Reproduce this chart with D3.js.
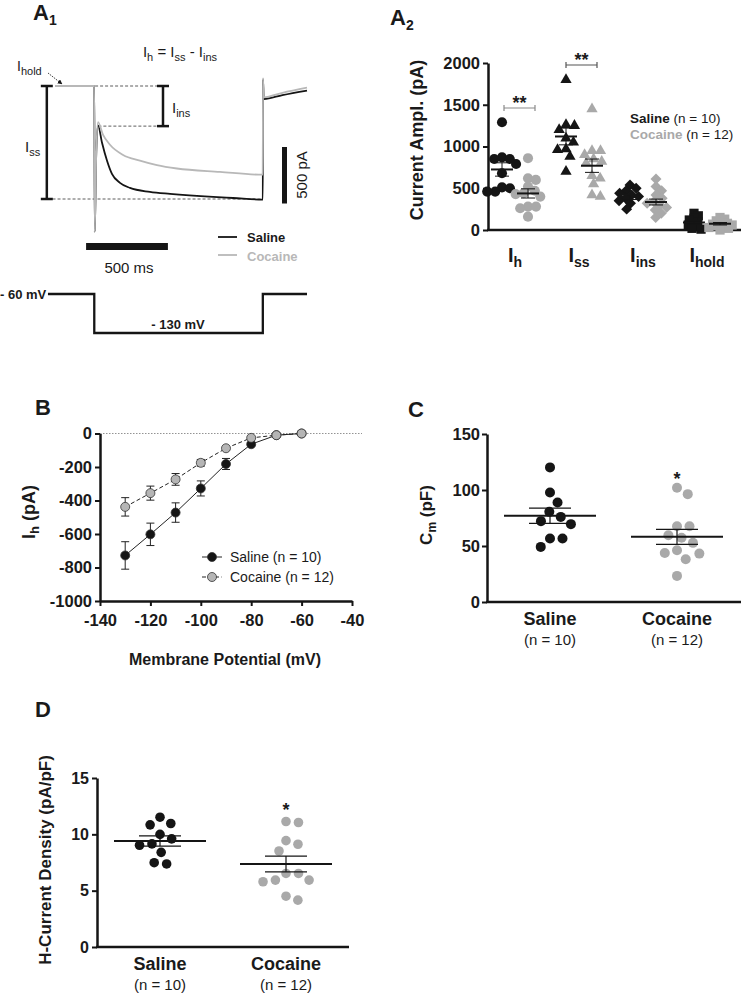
<!DOCTYPE html>
<html><head><meta charset="utf-8">
<script src="https://cdn.jsdelivr.net/npm/d3@7"></script>
<style>body{margin:0;background:#fff}svg{display:block}text{font-family:"Liberation Sans",Arial,Helvetica,sans-serif}</style>
</head><body><svg id="fig" width="741" height="993"></svg>
<script>
// ================= DATA =================
// A1: example current traces (time in ms from step onset, current in pA)
const salineTraceT = [-240, -5, 0, 3, 12, 23, 47, 78, 108, 157, 218, 340, 463, 726, 848, 1028, 1030, 1031, 1036, 1150, 1300];
const salineTraceI = [0, 0, 0, -1290, -600, -348, -500, -661, -777, -857, -902, -937, -955, -982, -991, -1005, -1005, 60, -115, -80, -40];
const cocaineTraceT = [-240, -5, 0, 3, 12, 23, 53, 96, 176, 279, 383, 505, 768, 1028, 1030, 1031, 1036, 1150, 1300];
const cocaineTraceI = [0, 0, 0, -1290, -600, -319, -430, -520, -610, -660, -700, -730, -760, -785, -785, 70, -100, -60, -15];
const issLevel = -1000, iinsLevel = -355;
const scaleBarMs = 500, scaleBarPA = 500;
const protocolT = [-283, 0, 0, 1030, 1030, 1300];
const protocolV = [-60, -60, -130, -130, -60, -60];

// A2: current amplitudes (pA)
const a2Categories = ["h", "ss", "ins", "hold"];
const a2Saline = [
  [1290, 870, 850, 850, 790, 680, 510, 500, 460, 460],
  [1800, 1260, 1250, 1200, 1100, 1050, 970, 960, 880, 700],
  [540, 500, 470, 440, 420, 400, 380, 350, 320, 250],
  [200, 170, 140, 120, 100, 80, 60, 40, 20, 10]
];
const a2Cocaine = [
  [860, 620, 600, 520, 470, 440, 430, 400, 280, 280, 260, 160],
  [1450, 950, 950, 900, 850, 820, 800, 650, 620, 550, 420, 400],
  [610, 520, 470, 420, 380, 340, 320, 300, 270, 240, 200, 150],
  [150, 130, 110, 90, 80, 70, 60, 50, 40, 30, 20, 0]
];
const a2SalineMean = [725, 1120, 395, 90], a2SalineSem = [80, 100, 30, 20];
const a2CocaineMean = [438, 770, 335, 75], a2CocaineSem = [55, 80, 35, 15];
const a2YTicks = [0, 500, 1000, 1500, 2000];

// B: I-V relation
const ivVoltage = [-130, -120, -110, -100, -90, -80, -70, -60];
const ivSaline = [-728, -602, -472, -328, -182, -64, -10, 0];
const ivSalineSem = [82, 67, 58, 45, 33, 10, 3, 0];
const ivCocaine = [-438, -356, -274, -175, -88, -26, -10, 0];
const ivCocaineSem = [55, 42, 35, 20, 10, 5, 2, 0];
const bXTicks = [-140, -120, -100, -80, -60, -40];
const bYTicks = [0, -200, -400, -600, -800, -1000];

// C: membrane capacitance (pF)
const groups = ["Saline", "Cocaine"];
const groupN = ["(n = 10)", "(n = 12)"];
const cmSaline = [120.2, 97.8, 88.9, 80.5, 76, 72.2, 69.5, 56.7, 56.7, 49.2];
const cmCocaine = [102, 96.3, 67.7, 67.7, 59.6, 57.3, 52.8, 46.2, 43.8, 43.2, 38.2, 23.3];
const cmMean = [77, 58.2], cmSem = [6.8, 6.7];
const cYTicks = [0, 50, 100, 150];

// D: H-current density (pA/pF)
const densSaline = [11.52, 10.96, 10.84, 10.0, 9.6, 9.15, 9.03, 8.4, 7.48, 7.37];
const densCocaine = [11.14, 11.05, 9.44, 9.12, 8.52, 6.53, 6.53, 5.94, 5.94, 5.79, 4.51, 4.16];
const densMean = [9.41, 7.37], densSem = [0.45, 0.7];
const dYTicks = [0, 5, 10, 15];

// ================= DRAWING =================
const svg = d3.select("#fig");
const BLACK = "#151515", GREY = "#a9a9a9", TXT = "#1a1a1a";

function rich(parent, x, y, parts, o) {
  const t = parent.append("text").attr("x", x).attr("y", y)
    .attr("font-size", o.size).attr("font-weight", o.weight || "normal")
    .attr("text-anchor", o.anchor || "start").attr("fill", o.fill || TXT);
  if (o.rotate) t.attr("transform", `rotate(${o.rotate},${x},${y})`);
  let shifted = 0;
  parts.forEach(p => {
    const arr = Array.isArray(p) ? p : [p, "n"];
    const ts = t.append("tspan").text(arr[0]);
    if (arr[1] === "s") {
      const d = o.subShift != null ? o.subShift : o.size * 0.3;
      ts.attr("font-size", o.subSize || o.size * 0.7).attr("dy", d - shifted); shifted = d;
    } else { if (shifted) ts.attr("dy", -shifted); shifted = 0; }
    if (arr[2]) ts.attr("font-weight", arr[2]);
    if (arr[3]) ts.attr("fill", arr[3]);
  });
  return t;
}

function swarm(values, yScale, cx, D) {
  const order = values.map((v, i) => i).sort((a, b) => values[b] - values[a]);
  const placed = [], out = new Array(values.length);
  order.forEach(i => {
    const y = yScale(values[i]);
    const cands = [0];
    placed.forEach(p => {
      const dy = Math.abs(p.y - y);
      if (dy < D) { const dx = Math.sqrt(D * D - dy * dy); cands.push(p.x + dx, p.x - dx); }
    });
    cands.sort((a, b) => Math.abs(a) - Math.abs(b) || b - a);
    const x = cands.find(c => placed.every(p => (p.x - c) ** 2 + (p.y - y) ** 2 >= D * D - 0.01));
    placed.push({ x, y });
    out[i] = { x: cx + x, y };
  });
  return out;
}

function meanSem(g, cx, yScale, mean, sem, halfW, capW, mw, sw) {
  g.append("line").attr("x1", cx - halfW).attr("x2", cx + halfW).attr("y1", yScale(mean)).attr("y2", yScale(mean))
    .attr("stroke", BLACK).attr("stroke-width", mw);
  g.append("line").attr("x1", cx).attr("x2", cx).attr("y1", yScale(mean - sem)).attr("y2", yScale(mean + sem))
    .attr("stroke", BLACK).attr("stroke-width", sw);
  [mean - sem, mean + sem].forEach(v => g.append("line").attr("x1", cx - capW).attr("x2", cx + capW)
    .attr("y1", yScale(v)).attr("y2", yScale(v)).attr("stroke", BLACK).attr("stroke-width", sw));
}

function styleAxis(ax, size) {
  ax.select(".domain").attr("stroke", BLACK).attr("stroke-width", 2.5);
  ax.selectAll(".tick line").attr("stroke", BLACK).attr("stroke-width", 2);
  ax.selectAll(".tick text").attr("font-size", size).attr("font-weight", "bold").attr("fill", TXT)
    .style("font-family", '"Liberation Sans",Arial,sans-serif');
}

// ---------- Panel A1 ----------
const a1 = svg.append("g");
rich(a1, 33, 20, [["A"], ["1", "s"]], { size: 22, weight: "bold", subSize: 14, subShift: 5 });
const tx = d3.scaleLinear().domain([-240, 1300]).range([55, 307]);
const ty = d3.scaleLinear().domain([0, -1000]).range([86, 199]);
const tline = d3.line().x(d => tx(d[0])).y(d => ty(d[1]));
const dash = (x1, x2, v) => a1.append("line").attr("x1", x1).attr("x2", x2).attr("y1", ty(v)).attr("y2", ty(v))
  .attr("stroke", "#333").attr("stroke-width", 0.8).attr("stroke-dasharray", "3,2");
dash(tx(5), tx(435), 0);
dash(tx(25), tx(400), iinsLevel);
dash(tx(-255), tx(1030), issLevel);
a1.append("path").datum(salineTraceT.map((t, i) => [t, salineTraceI[i]])).attr("d", tline.curve(d3.curveMonotoneX))
  .attr("fill", "none").attr("stroke", BLACK).attr("stroke-width", 1.8);
a1.append("path").datum(cocaineTraceT.map((t, i) => [t, cocaineTraceI[i]])).attr("d", tline.curve(d3.curveMonotoneX))
  .attr("fill", "none").attr("stroke", "#b8b8b8").attr("stroke-width", 1.8);
function bracket(x, v1, v2) {
  a1.append("line").attr("x1", x).attr("x2", x).attr("y1", ty(v1)).attr("y2", ty(v2)).attr("stroke", BLACK).attr("stroke-width", 2.5);
  [v1, v2].forEach(v => a1.append("line").attr("x1", x - 6).attr("x2", x + 6).attr("y1", ty(v)).attr("y2", ty(v)).attr("stroke", BLACK).attr("stroke-width", 2.5));
}
bracket(tx(-290), 0, issLevel);
bracket(tx(420), 0, iinsLevel);
rich(a1, 180, 57, [["I"], ["h", "s"], [" = I"], ["ss", "s"], [" - I"], ["ins", "s"]], { size: 15, anchor: "middle", subSize: 11, subShift: 4 });
rich(a1, 17, 71, [["I"], ["hold", "s"]], { size: 14, subSize: 11, subShift: 4 });
rich(a1, 25, 152, [["I"], ["ss", "s"]], { size: 15, subSize: 11, subShift: 4 });
rich(a1, 172, 113, [["I"], ["ins", "s"]], { size: 15, subSize: 11, subShift: 4 });
svg.append("defs").append("marker").attr("id", "arr").attr("viewBox", "0 0 10 10").attr("refX", 9).attr("refY", 5)
  .attr("markerWidth", 6).attr("markerHeight", 6).attr("orient", "auto")
  .append("path").attr("d", "M0,0L10,5L0,10z").attr("fill", BLACK);
a1.append("line").attr("x1", 48).attr("y1", 73).attr("x2", 62).attr("y2", 84).attr("stroke", BLACK)
  .attr("stroke-width", 0.8).attr("stroke-dasharray", "1.5,1").attr("marker-end", "url(#arr)");
// scale bars
a1.append("rect").attr("x", 282).attr("width", 5).attr("y", 147)
  .attr("height", ty(-scaleBarPA) - ty(0)).attr("fill", BLACK);
rich(a1, 307, 175, [["500 pA"]], { size: 15, anchor: "middle", rotate: -90 });
a1.append("rect").attr("x", tx(-50)).attr("width", tx(scaleBarMs - 50) - tx(-50)).attr("y", 243).attr("height", 7).attr("fill", BLACK);
rich(a1, 129, 273, [["500 ms"]], { size: 15, anchor: "middle" });
// legend
a1.append("line").attr("x1", 218).attr("x2", 237).attr("y1", 237).attr("y2", 237).attr("stroke", BLACK).attr("stroke-width", 1.8);
a1.append("line").attr("x1", 218).attr("x2", 237).attr("y1", 255).attr("y2", 255).attr("stroke", "#b8b8b8").attr("stroke-width", 1.8);
rich(a1, 247, 242, [["Saline"]], { size: 13, weight: "bold" });
rich(a1, 247, 261, [["Cocaine"]], { size: 13, weight: "bold", fill: "#b8b8b8" });
// voltage protocol
const vy = d3.scaleLinear().domain([-60, -130]).range([294, 333]);
a1.append("path").datum(protocolT.map((t, i) => [t, protocolV[i]]))
  .attr("d", d3.line().x(d => tx(d[0])).y(d => vy(d[1]))).attr("fill", "none").attr("stroke", BLACK).attr("stroke-width", 2.3);
rich(a1, 0, 299, [["- 60 mV"]], { size: 13, weight: "bold" });
rich(a1, 178, 329, [["- 130 mV"]], { size: 13, weight: "bold", anchor: "middle" });

// ---------- Panel A2 ----------
const a2 = svg.append("g");
rich(a2, 390, 25, [["A"], ["2", "s"]], { size: 22, weight: "bold", subSize: 14, subShift: 5 });
const a2x = d3.scalePoint().domain(a2Categories).range([515, 707]);
const a2y = d3.scaleLinear().domain([0, 2000]).range([230, 63]);
const a2ax = a2.append("g").attr("transform", "translate(488,0)")
  .call(d3.axisLeft(a2y).tickValues(a2YTicks).tickSize(5).tickSizeOuter(0).tickPadding(3).tickFormat(d => String(d)));
styleAxis(a2ax, 16.5);
a2.append("line").attr("x1", 487).attr("x2", 741).attr("y1", 230).attr("y2", 230).attr("stroke", BLACK).attr("stroke-width", 2.5);
const a2Sym = [
  d3.symbol().type(d3.symbolCircle).size(80),
  d3.symbol().type(d3.symbolTriangle).size(55),
  d3.symbol().type(d3.symbolSquare).size(60),
  d3.symbol().type(d3.symbolSquare).size(85)
];
const a2Rot = [0, 0, 45, 0];
const a2Gap = [8, 8.5, 7, 5];
a2Categories.forEach((c, ci) => {
  [[a2Saline[ci], -13, BLACK, a2SalineMean[ci], a2SalineSem[ci]], [a2Cocaine[ci], 13, GREY, a2CocaineMean[ci], a2CocaineSem[ci]]]
    .forEach(([vals, off, col, m, s]) => {
      const cx = a2x(c) + off;
      swarm(vals, a2y, cx, a2Gap[ci]).forEach(p => a2.append("path").attr("d", a2Sym[ci]())
        .attr("transform", `translate(${p.x},${p.y}) rotate(${a2Rot[ci]})`).attr("fill", col));
      meanSem(a2, cx, a2y, m, s, 11, 7, 2, 1);
    });
  rich(a2, a2x(c), 262, [["I"], [c, "s"]], { size: 20, weight: "bold", anchor: "middle", subSize: 14, subShift: 5 });
});
function sig(x1, x2, y, col) {
  a2.append("path").attr("d", `M${x1},${y - 3}V${y + 3}M${x1},${y}H${x2}M${x2},${y - 3}V${y + 3}`)
    .attr("stroke", col).attr("stroke-width", 1.2).attr("fill", "none");
  rich(a2, (x1 + x2) / 2, y + 1, [["**"]], { size: 18, weight: "bold", anchor: "middle" });
}
sig(a2x("h") - 11, a2x("h") + 20, 108, "#8a8a8a");
sig(a2x("ss") - 13, a2x("ss") + 18, 65, "#555");
rich(a2, 630, 123, [["Saline", "n", "bold"], [" (n = 10)", "n", "normal"]], { size: 13.5 });
rich(a2, 630, 139, [["Cocaine", "n", "bold"], [" (n = 12)", "n", "normal", TXT]], { size: 13.5, fill: GREY });
rich(a2, 423, 140, [["Current Ampl. (pA)"]], { size: 18, weight: "bold", anchor: "middle", rotate: -90 });

// ---------- Panel B ----------
const b = svg.append("g");
rich(b, 35, 415, [["B"]], { size: 22, weight: "bold" });
const bx = d3.scaleLinear().domain([-140, -40]).range([100, 352]);
const by = d3.scaleLinear().domain([0, -1000]).range([433.5, 601]);
b.append("line").attr("x1", 100).attr("x2", 362).attr("y1", by(0)).attr("y2", by(0))
  .attr("stroke", "#777").attr("stroke-width", 0.8).attr("stroke-dasharray", "1.5,1.5");
const byAx = b.append("g").attr("transform", "translate(100,0)")
  .call(d3.axisLeft(by).tickValues(bYTicks).tickSize(5).tickSizeOuter(0).tickPadding(3).tickFormat(d => String(d)));
styleAxis(byAx, 16.5);
const bxAx = b.append("g").attr("transform", `translate(0,${by(-1000)})`)
  .call(d3.axisBottom(bx).tickValues(bXTicks).tickSize(5).tickSizeOuter(0).tickPadding(8).tickFormat(d => String(d)));
styleAxis(bxAx, 16.5);
function ivSeries(vals, sems, fill, dashArr) {
  const pts = ivVoltage.map((v, i) => [v, vals[i], sems[i]]);
  b.append("path").datum(pts).attr("d", d3.line().x(d => bx(d[0])).y(d => by(d[1])))
    .attr("fill", "none").attr("stroke", "#222").attr("stroke-width", 1).attr("stroke-dasharray", dashArr);
  pts.forEach(d => {
    if (d[2] > 0) {
      b.append("path").attr("d", `M${bx(d[0])},${by(d[1] - d[2])}V${by(d[1] + d[2])}M${bx(d[0]) - 4},${by(d[1] - d[2])}h8M${bx(d[0]) - 4},${by(d[1] + d[2])}h8`)
        .attr("stroke", "#222").attr("stroke-width", 1).attr("fill", "none");
    }
  });
  pts.forEach(d => b.append("circle").attr("cx", bx(d[0])).attr("cy", by(d[1])).attr("r", 4.5)
    .attr("fill", fill).attr("stroke", "#333").attr("stroke-width", 0.8));
}
ivSeries(ivSaline, ivSalineSem, BLACK, null);
ivSeries(ivCocaine, ivCocaineSem, "#b5b5b5", "4,2.5");
[["Saline (n = 10)", BLACK, null, 557], ["Cocaine (n = 12)", "#b5b5b5", "4,2.5", 577]].forEach(([t, f, da, y]) => {
  b.append("line").attr("x1", 202).attr("x2", 222).attr("y1", y).attr("y2", y).attr("stroke", "#222").attr("stroke-width", 1).attr("stroke-dasharray", da);
  b.append("circle").attr("cx", 212).attr("cy", y).attr("r", 4.5).attr("fill", f).attr("stroke", "#333").attr("stroke-width", 0.8);
  rich(b, 230, y + 5, [[t]], { size: 14 });
});
rich(b, 35, 512, [["I"], ["h", "s"], [" (pA)"]], { size: 18, weight: "bold", anchor: "middle", rotate: -90, subSize: 13, subShift: 4 });
rich(b, 225, 665, [["Membrane Potential (mV)"]], { size: 16, weight: "bold", anchor: "middle" });

// ---------- Group scatter panels (C, D) ----------
function groupPanel(o) {
  const g = svg.append("g");
  rich(g, o.letterX, o.letterY, [[o.letter]], { size: 22, weight: "bold" });
  const y = d3.scaleLinear().domain(o.domain).range([o.y0, o.y1]);
  const x = d3.scalePoint().domain(groups).range(o.centers);
  const ax = g.append("g").attr("transform", `translate(${o.x0},0)`)
    .call(d3.axisLeft(y).tickValues(o.ticks).tickSize(5).tickSizeOuter(0).tickPadding(o.pad).tickFormat(d => String(d)));
  styleAxis(ax, o.tickSize);
  g.append("line").attr("x1", o.x0 - 1).attr("x2", o.x1).attr("y1", o.y0).attr("y2", o.y0).attr("stroke", BLACK).attr("stroke-width", 2.5);
  [[o.saline, BLACK], [o.cocaine, GREY]].forEach(([vals, col], gi) => {
    const cx = x(groups[gi]);
    swarm(vals, y, cx, o.D).forEach(p => g.append("circle").attr("cx", p.x).attr("cy", p.y).attr("r", o.r).attr("fill", col));
    meanSem(g, cx, y, o.mean[gi], o.sem[gi], 46, 21, 2, 1.2);
    rich(g, cx, o.labelY, [[groups[gi]]], { size: 18, weight: "bold", anchor: "middle" });
    rich(g, cx, o.labelY + 20, [[groupN[gi]]], { size: 15, anchor: "middle" });
  });
  rich(g, x("Cocaine"), o.starY, [["*"]], { size: 18, weight: "bold", anchor: "middle" });
  rich(g, o.ylabX, o.ylabY, o.ylab, { size: o.ylabSize, weight: "bold", anchor: "middle", rotate: -90, subSize: 12, subShift: 4 });
}
groupPanel({
  letter: "C", letterX: 408, letterY: 417, domain: [0, 150], y0: 602, y1: 434, x0: 487, x1: 741,
  centers: [550, 677], ticks: cYTicks, pad: 2, tickSize: 16.5, saline: cmSaline, cocaine: cmCocaine,
  mean: cmMean, sem: cmSem, r: 5, D: 12.5, labelY: 625, starY: 485,
  ylabX: 432, ylabY: 515, ylab: [["C"], ["m", "s"], ["  (pF)"]], ylabSize: 17
});
groupPanel({
  letter: "D", letterX: 35, letterY: 717, domain: [0, 15], y0: 947, y1: 778, x0: 97, x1: 349,
  centers: [160, 286], ticks: dYTicks, pad: 3, tickSize: 16, saline: densSaline, cocaine: densCocaine,
  mean: densMean, sem: densSem, r: 4.8, D: 12.5, labelY: 970, starY: 816,
  ylabX: 51, ylabY: 860, ylab: [["H-Current Density (pA/pF)"]], ylabSize: 17
});
</script></body></html>
